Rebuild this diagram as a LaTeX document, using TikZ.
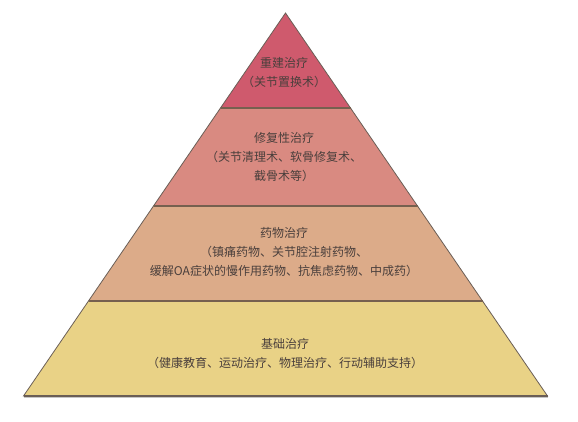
\documentclass[tikz,border=0pt]{standalone}
\usepackage{fontspec}
\newfontfamily\cjk{Noto Sans CJK SC}
\definecolor{c1}{HTML}{CF5A6D}
\definecolor{c2}{HTML}{D98A81}
\definecolor{c3}{HTML}{DCAB89}
\definecolor{c4}{HTML}{E9D286}
\definecolor{edge}{HTML}{6A5E56}
\definecolor{sep}{HTML}{76604F}
\definecolor{txt}{HTML}{4A3F3C}
\tikzset{
  band/.style={draw=edge, line width=0.8pt, line join=miter},
  sepline/.style={draw=sep, line width=1.6pt},
  label/.style={align=center, text=txt, inner sep=0pt,
    font=\cjk\fontsize{12}{19}\selectfont},
}
\begin{document}
\begin{tikzpicture}[x=1pt,y=-1pt]
\useasboundingbox (0,0) rectangle (578,422);
\fill[white] (0,0) rectangle (578,422);
% coordinates
\coordinate (apex) at (285.5,13);
\coordinate (l1) at (220.5,108); \coordinate (r1) at (350.5,108);
\coordinate (l2) at (153.5,206); \coordinate (r2) at (417.5,206);
\coordinate (l3) at (88.5,301);  \coordinate (r3) at (482.5,301);
\coordinate (l4) at (23.5,396);  \coordinate (r4) at (547.5,396);
% shadow under base
\draw[gray!45, line width=1.2pt] ([yshift=-1.6pt]l4) -- ([yshift=-1.6pt]r4);
% bands
\path[band, fill=c4] (l3) -- (r3) -- (r4) -- (l4) -- cycle;
\path[band, fill=c3] (l2) -- (r2) -- (r3) -- (l3) -- cycle;
\path[band, fill=c2] (l1) -- (r1) -- (r2) -- (l2) -- cycle;
\path[band, fill=c1] (apex) -- (r1) -- (l1) -- cycle;
% separators
\draw[sepline] (l1) -- (r1);
\draw[sepline] (l2) -- (r2);
\draw[sepline] (l3) -- (r3);
\draw[edge, line width=1.2pt] (l4) -- (r4);
% labels
\node[label] (t1) at (284,73) {重建治疗\\（关节置换术）};
\node[label] (t2) at (284,157) {修复性治疗\\（关节清理术、软骨修复术、\\截骨术等）};
\node[label] (t3) at (284,252) {药物治疗\\（镇痛药物、关节腔注射药物、\\缓解OA症状的慢作用药物、抗焦虑药物、中成药）};
\node[label] (t4) at (285,354) {基础治疗\\（健康教育、运动治疗、物理治疗、行动辅助支持）};
\end{tikzpicture}
\end{document}
